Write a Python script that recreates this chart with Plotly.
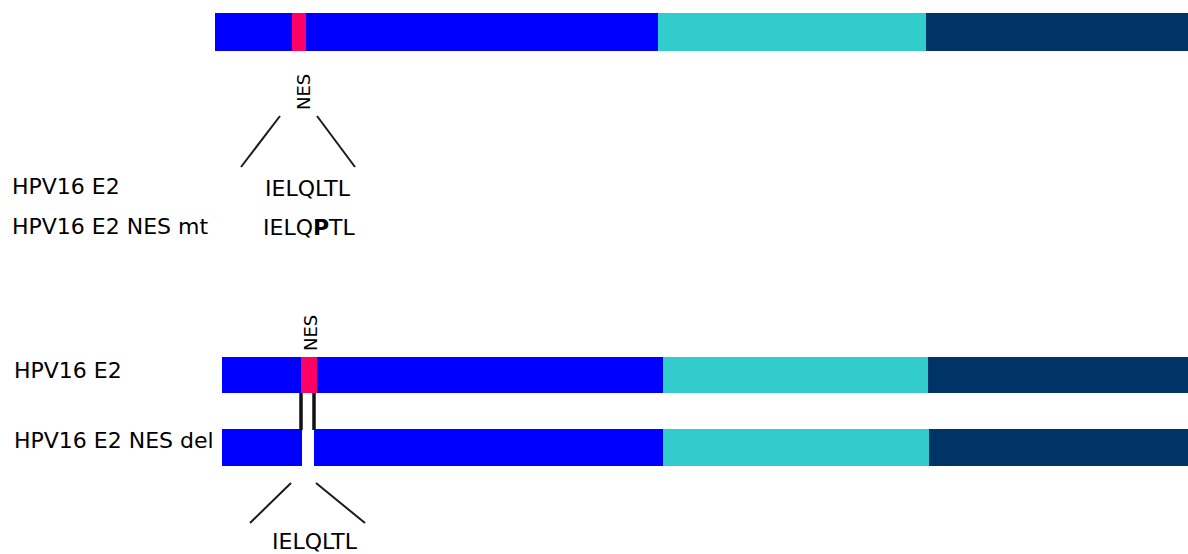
import plotly.graph_objects as go

# Diagram units follow the picture (x left->right, y top->bottom)
# Row centres and bar thickness
row_y = [32, 375, 447.5]
row_h = [38, 36, 37]

# Domain segments per row: (row index, start, end)
tad = [(0, 215, 658), (1, 222, 663), (2, 222, 302), (2, 314, 663)]
nes = [(0, 292, 306), (1, 301, 317)]
hinge = [(0, 658, 926), (1, 663, 928), (2, 663, 929)]
dbd = [(0, 926, 1188), (1, 928, 1188), (2, 929, 1188)]

colors = {"tad": "#0000FF", "nes": "#FF0066", "hinge": "#33CCCC", "dbd": "#003366"}

# Connector lines (x pairs, y pairs)
connectors = [
    ([280, 241], [116, 167]),
    ([317, 355], [116, 167]),
    ([291, 250], [483, 523]),
    ([316, 365], [483, 523]),
]
del_marks = [([301, 301], [393, 430]), ([314, 314], [393, 430])]

# Labels
row_labels = [("HPV16 E2", 10, 186), ("HPV16 E2 NES mt", 10, 226),
              ("HPV16 E2", 12, 370), ("HPV16 E2 NES del", 12, 440)]
seq_labels = [("IELQLTL", 308, 188), ("IELQ<b>P</b>TL", 309, 227), ("IELQLTL", 315, 541)]
nes_labels = [(303, 92), (310, 333)]

fig = go.Figure()


def add_segments(segs, color):
    fig.add_trace(go.Bar(
        orientation="h",
        y=[row_y[r] for r, s, e in segs],
        base=[s for r, s, e in segs],
        x=[e - s for r, s, e in segs],
        width=[row_h[r] for r, s, e in segs],
        marker=dict(color=color, line=dict(width=0)),
        showlegend=False, hoverinfo="skip",
    ))


add_segments(tad, colors["tad"])
add_segments(hinge, colors["hinge"])
add_segments(dbd, colors["dbd"])
add_segments(nes, colors["nes"])

for xs, ys in connectors:
    fig.add_trace(go.Scatter(x=xs, y=ys, mode="lines",
                             line=dict(color="#1a1a1a", width=2),
                             showlegend=False, hoverinfo="skip"))
for xs, ys in del_marks:
    fig.add_trace(go.Scatter(x=xs, y=ys, mode="lines",
                             line=dict(color="#111111", width=3.5),
                             showlegend=False, hoverinfo="skip"))

font = dict(family="DejaVu Sans", size=22, color="#000000")
for txt, x, y in row_labels:
    fig.add_annotation(x=x, y=y, text=txt, showarrow=False, xanchor="left",
                       yanchor="middle", font=font)
for txt, x, y in seq_labels:
    fig.add_annotation(x=x, y=y, text=txt, showarrow=False, xanchor="center",
                       yanchor="middle", font=font)
for x, y in nes_labels:
    fig.add_annotation(x=x, y=y, text="NES", showarrow=False, textangle=-90,
                       xanchor="center", yanchor="middle",
                       font=dict(family="DejaVu Sans", size=18, color="#000000"))

fig.update_layout(
    width=1188, height=554,
    margin=dict(l=0, r=0, t=0, b=0),
    paper_bgcolor="white", plot_bgcolor="white",
    barmode="overlay", bargap=0,
    xaxis=dict(range=[0, 1188], visible=False, fixedrange=True),
    yaxis=dict(range=[554, 0], visible=False, fixedrange=True),
)

# drop the default body margin so the figure fills the window exactly
fig.write_html("out.html", config={"displayModeBar": False},
               post_script="document.body.style.margin='0';")
